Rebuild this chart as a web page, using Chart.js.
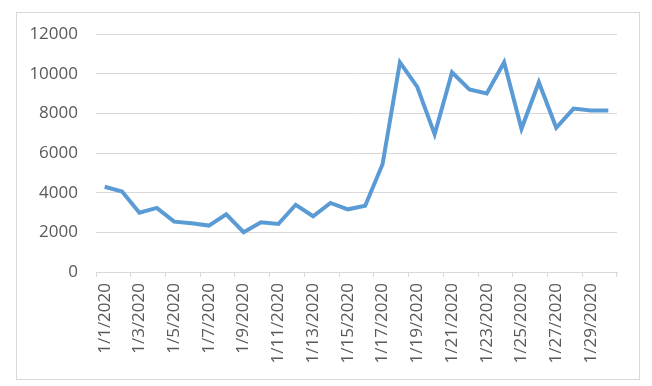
<!DOCTYPE html>
<html>
<head>
<meta charset="utf-8">
<script src="https://cdn.jsdelivr.net/npm/chart.js@4"></script>
<style>
  html, body { margin: 0; padding: 0; background: #fff; }
  #wrap { position: relative; width: 652px; height: 386px; }
  #marco { position: absolute; left: 16px; top: 12px; width: 622px; height: 366px; border: 1px solid #d9d9d9; pointer-events: none; }
  canvas { position: absolute; left: 0; top: 0; }
</style>
</head>
<body>
<div id="wrap">
  <canvas id="grafica" width="652" height="386"></canvas>
  <div id="marco"></div>
</div>
<script>
// Fechas (una por día)
var fechas = ['1/1/2020', '1/2/2020', '1/3/2020', '1/4/2020', '1/5/2020', '1/6/2020',
    '1/7/2020', '1/8/2020', '1/9/2020', '1/10/2020', '1/11/2020', '1/12/2020',
    '1/13/2020', '1/14/2020', '1/15/2020', '1/16/2020', '1/17/2020', '1/18/2020',
    '1/19/2020', '1/20/2020', '1/21/2020', '1/22/2020', '1/23/2020', '1/24/2020',
    '1/25/2020', '1/26/2020', '1/27/2020', '1/28/2020', '1/29/2020', '1/30/2020'];

// Valores
var valores = [4300, 4060, 2990, 3230, 2540, 2460, 2340, 2910, 2010, 2510,
    2420, 3390, 2810, 3480, 3160, 3340, 5430, 10570, 9330, 6940,
    10070, 9200, 9000, 10570, 7220, 9570, 7270, 8240, 8140, 8140];

// Marcas del eje Y
var marcasY = [0, 2000, 4000, 6000, 8000, 10000, 12000];

var gris = '#d9d9d9';
var texto = '#595959';

var ctx = document.getElementById('grafica').getContext('2d');
var grafica = new Chart(ctx, {
    type: 'line',
    data: {
        labels: fechas,
        datasets: [{
            data: valores,
            borderColor: '#5b9bd5',
            borderWidth: 4,
            pointRadius: 0,
            tension: 0,
            fill: false
        }]
    },
    options: {
        responsive: false,
        animation: false,
        layout: { padding: { left: 0, right: 35, top: 34, bottom: 0 } },
        plugins: {
            legend: { display: false },
            tooltip: { enabled: false }
        },
        scales: {
            x: {
                offset: true,
                afterFit: function (s) { s.height = 114; },
                grid: {
                    offset: true,
                    drawOnChartArea: false,
                    tickLength: 5,
                    color: function (c) {
                        return (c.index === undefined || c.index % 2 === 0) ? gris : 'rgba(0,0,0,0)';
                    }
                },
                border: { color: gris, width: 1 },
                ticks: {
                    autoSkip: false,
                    minRotation: 90,
                    maxRotation: 90,
                    padding: 6,
                    color: texto,
                    font: { family: 'Open Sans', size: 17 },
                    callback: function (v, i) { return i % 2 === 0 ? fechas[i] : ''; }
                }
            },
            y: {
                min: marcasY[0],
                max: marcasY[marcasY.length - 1],
                afterFit: function (s) { s.width = 96; },
                afterBuildTicks: function (s) { s.ticks = marcasY.map(function (v) { return { value: v }; }); },
                grid: { color: gris, drawTicks: false },
                border: { display: false },
                ticks: {
                    padding: 18,
                    color: texto,
                    font: { family: 'Open Sans', size: 17 },
                    callback: function (v) { return String(v); }
                }
            }
        }
    }
});
</script>
</body>
</html>
